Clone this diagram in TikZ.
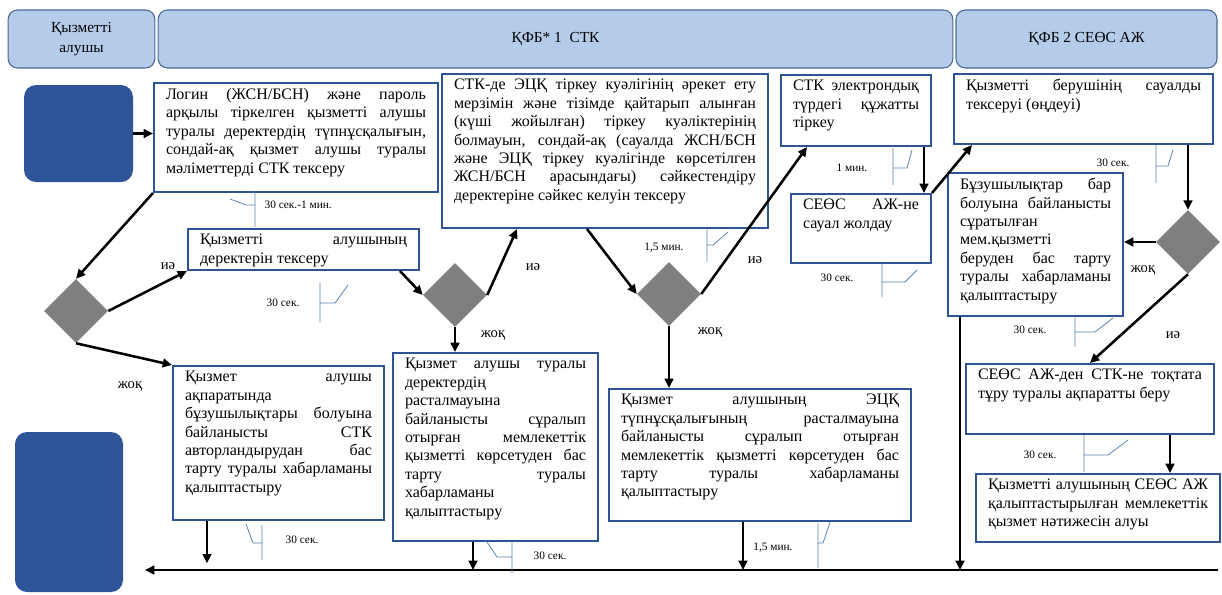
\documentclass[tikz,border=0pt]{standalone}
\usepackage{fontspec}
\setmainfont{Liberation Serif}
\usetikzlibrary{shapes.geometric,arrows.meta,calc}
\definecolor{lanefill}{HTML}{B4CCEA}
\definecolor{laneedge}{HTML}{4A6A94}
\definecolor{termblue}{HTML}{2E5597}
\definecolor{boxedge}{HTML}{2F5496}
\definecolor{diagray}{HTML}{7F7F7F}
\definecolor{tickblue}{HTML}{5A84B2}
% box text: width (px), height (px), text
\newcommand\boxtext[3]{\parbox[t][\dimexpr #2pt*3/4-8pt\relax][t]{\dimexpr #1pt*3/4-18pt\relax}{\tolerance=10000\hyphenpenalty=10000\relax #3}}
\begin{document}
\begin{tikzpicture}[x=0.75pt, y=-0.75pt,
  lane/.style={draw=laneedge, fill=lanefill, line width=0.8pt, rounded corners=7pt, align=center, minimum height=43.5pt, font=\fontsize{11.5}{15}\selectfont},
  term/.style={fill=termblue, rounded corners=9pt},
  procbox/.style={draw=boxedge, line width=1.5pt, fill=white, anchor=north west, inner xsep=9pt, inner ysep=4pt, font=\fontsize{12}{13.8}\selectfont},
  decision/.style={diamond, aspect=1, fill=diagray, inner sep=0pt, minimum width=48pt, minimum height=48pt},
  arr/.style={-{Triangle[length=7pt, width=6.5pt]}, line width=1.9pt},
  tick/.style={draw=tickblue, line width=0.6pt},
  tlabel/.style={font=\fontsize{8.5}{10}\selectfont, inner sep=1pt},
  ans/.style={font=\fontsize{11}{13}\selectfont, inner sep=1pt}]
\useasboundingbox (0,0) rectangle (1222,594);

% lanes
\node[lane, minimum width=110pt] (hrecv) at (81.5,39) {Қызметті\\алушы};
\node[lane, minimum width=596pt] (hstk) at (555.5,39) {ҚФБ*~1~~СТК};
\node[lane, minimum width=195.75pt] (hseos) at (1086.5,39) {ҚФБ 2 СЕӨС АЖ};

% start and end
\node[term, minimum width=81.75pt, minimum height=72.75pt] (start) at (78.5,133.5) {};
\node[term, minimum width=81pt, minimum height=120pt] (finish) at (69,512) {};

% steps
\node[procbox] (login) at (153,82) {\boxtext{284}{109}{Логин (ЖСН/БСН) және пароль\linebreak арқылы тіркелген қызметті алушы\linebreak туралы деректердің түпнұсқалығын,\linebreak сондай-ақ қызмет алушы туралы\linebreak мәліметтерді СТК тексеру}};
\node[procbox] (check) at (187,228) {\boxtext{231}{41}{Қызметті алушының\linebreak деректерін тексеру}};
\node[procbox] (ecp) at (441,73) {\boxtext{326}{154}{СТК-де ЭЦҚ тіркеу куәлігінің әрекет ету\linebreak мерзімін және тізімде қайтарып алынған\linebreak (күші жойылған) тіркеу куәліктерінің\linebreak болмауын, сондай-ақ (сауалда ЖСН/БСН\linebreak және ЭЦҚ тіркеу куәлігінде көрсетілген\linebreak ЖСН/БСН арасындағы) сәйкестендіру\linebreak деректеріне сәйкес келуін тексеру}};
\node[procbox] (reg) at (780,74) {\boxtext{150}{71}{СТК электрондық\linebreak түрдегі құжатты\linebreak тіркеу}};
\node[procbox] (sendq) at (790,193) {\boxtext{140}{69}{СЕӨС АЖ-не\linebreak сауал жолдау}};
\node[procbox] (procq) at (953,73) {\boxtext{259}{70}{Қызметті берушінің сауалды\linebreak тексеруі (өңдеуі)}};
\node[procbox] (refuse) at (947,172) {\boxtext{175}{143}{Бұзушылықтар бар\linebreak болуына байланысты\linebreak сұратылған\linebreak мем.қызметті\linebreak беруден бас тарту\linebreak туралы хабарламаны\linebreak қалыптастыру}};
\node[procbox] (nofmt) at (172,365) {\boxtext{211}{154}{Қызмет алушы\linebreak ақпаратында\linebreak бұзушылықтары болуына\linebreak байланысты СТК\linebreak авторландырудан бас\linebreak тарту туралы хабарламаны\linebreak қалыптастыру}};
\node[procbox] (refdata) at (392,352) {\boxtext{205}{188}{Қызмет алушы туралы\linebreak деректердің\linebreak расталмауына\linebreak байланысты сұралып\linebreak отырған мемлекеттік\linebreak қызметті көрсетуден бас\linebreak тарту туралы\linebreak хабарламаны\linebreak қалыптастыру}};
\node[procbox] (ecpfail) at (608,388) {\boxtext{302}{132}{Қызмет алушының ЭЦҚ\linebreak түпнұсқалығының расталмауына\linebreak байланысты сұралып отырған\linebreak мемлекеттік қызметті көрсетуден бас\linebreak тарту туралы хабарламаны\linebreak қалыптастыру}};
\node[procbox] (stopinfo) at (965,363) {\boxtext{248}{70}{СЕӨС АЖ-ден СТК-не тоқтата\linebreak тұру туралы ақпаратты беру}};
\node[procbox] (result) at (975,473) {\boxtext{244}{68}{Қызметті алушының СЕӨС АЖ\linebreak қалыптастырылған мемлекеттік\linebreak қызмет нәтижесін алуы}};

% decisions
\node[decision] (d1) at (76,311) {};
\node[decision] (d2) at (455,295) {};
\node[decision] (d3) at (669,294) {};
\node[decision] (d4) at (1188,242) {};

% answers
\node[ans] (yes1) at (168,266) {иә};
\node[ans] (no1) at (130,386) {жоқ};
\node[ans] (yes2) at (533,267) {иә};
\node[ans] (no2) at (493,335) {жоқ};
\node[ans] (yes3) at (755,260) {иә};
\node[ans] (no3) at (710,332) {жоқ};
\node[ans] (no4) at (1143,270) {жоқ};
\node[ans] (yes4) at (1173,335) {иә};

% connectors
\coordinate (busR) at (1218,570);
\coordinate (busL) at (145,570);
\draw[arr] (busR) -- (busL);
\draw[arr] (start.east) -- (start.east -| login.west);
\draw[arr] (login.south west) -- (d1.north);
\draw[arr] (d1.east) -- (check.south west);
\draw[arr] (d1.south) -- (nofmt.north west);
\draw[arr] ($(check.south east)+(-20,0)$) -- (d2.west);
\draw[arr] (d2.east) -- ($(ecp.south west)+(76,0)$);
\draw[arr] (d2.south) -- (d2.south |- refdata.north);
\draw[arr] ($(ecp.south west)+(146,0)$) -- (d3.west);
\draw[arr] (d3.east) -- ($(reg.south west)+(27,0)$);
\draw[arr] (d3.south) -- (d3.south |- ecpfail.north);
\draw[arr] ($(reg.south east)+(-8,0)$) -- ($(sendq.north east)+(-8,0)$);
\draw[arr] (sendq.north east) -- ($(procq.south west)+(19,0)$);
\draw[arr] (d4.north |- procq.south) -- (d4.north);
\draw[arr] (d4.west) -- (d4.west -| refuse.east);
\draw[arr] (d4.south) -- ($(stopinfo.north west)+(125,0)$);
\coordinate (kout) at ($(stopinfo.south east)+(-45,0)$);
\draw[arr] (kout) -- (kout |- result.north);
\coordinate (gout) at ($(refuse.south west)+(13,0)$);
\draw[arr] (gout) -- (gout |- busL);
\coordinate (hout) at ($(nofmt.south west)+(35,0)$);
\draw[arr, shorten >=5pt] (hout) -- (hout |- busL);
\coordinate (iout) at ($(refdata.south west)+(81,0)$);
\draw[arr] (iout) -- (iout |- busL);
\coordinate (jout) at ($(ecpfail.south west)+(135,0)$);
\draw[arr] (jout) -- (jout |- busL);

% times
\draw[tick] (255,191) -- (255,227) (255,205) -- (246,205) -- (230,199);
\node[tlabel, anchor=west] (t1) at (263,205) {30 сек.-1 мин.};
\draw[tick] (320,283) -- (320,322) (320,303) -- (335,303) -- (348,285);
\node[tlabel] (t2) at (283,303) {30 сек.};
\draw[tick] (707,228) -- (707,262) (707,245) -- (713,245) -- (728,232);
\node[tlabel] (t3) at (664,248) {1,5 мин.};
\draw[tick] (893,148) -- (893,185) (893,168) -- (907,168) -- (912,150);
\node[tlabel] (t4) at (852,168) {1 мин.};
\draw[tick] (882,263) -- (882,297) (882,282) -- (905,282) -- (917,270);
\node[tlabel] (t5) at (837,278) {30 сек.};
\draw[tick] (1156,145) -- (1156,183) (1156,166) -- (1168,166) -- (1173,150);
\node[tlabel] (t6) at (1113,163) {30 сек.};
\draw[tick] (1075,316) -- (1075,347) (1075,332) -- (1095,332) -- (1113,318);
\node[tlabel] (t7) at (1030,330) {30 сек.};
\draw[tick] (1084,435) -- (1084,472) (1084,455) -- (1108,455) -- (1128,440);
\node[tlabel] (t8) at (1040,455) {30 сек.};
\draw[tick] (818,523) -- (818,568) (818,543) -- (823,543) -- (830,522);
\node[tlabel] (t9) at (773,548) {1,5 мин.};
\draw[tick] (512,541) -- (512,573) (512,557) -- (497,557) -- (487,542);
\node[tlabel] (t10) at (550,556) {30 сек.};
\draw[tick] (262,525) -- (262,560) (262,543) -- (253,543) -- (246,524);
\node[tlabel] (t11) at (302,540) {30 сек.};
\end{tikzpicture}
\end{document}
